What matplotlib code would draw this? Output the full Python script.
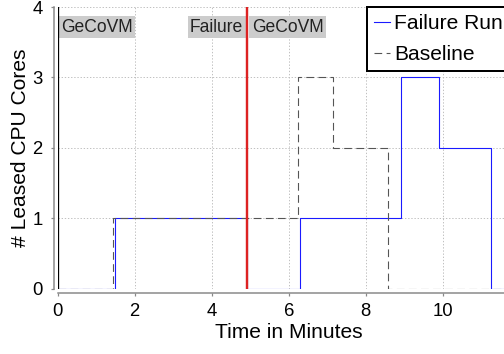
import matplotlib
matplotlib.use("Agg")
import matplotlib.pyplot as plt
import numpy as np

plt.rcParams['font.family'] = ['Liberation Sans', 'DejaVu Sans']

# Failure run: step edges (time, value held after)
fail_t = [0, 1.48, 4.92, 6.30, 8.90, 9.90, 11.24, 12.5]
fail_v = [0, 1, 0, 1, 3, 2, 0, 0]
# Baseline
base_t = [0, 1.44, 6.23, 7.16, 8.57, 12.5]
base_v = [0, 1, 3, 2, 0, 0]

failure_time = 4.92
xticks = [0, 2, 4, 6, 8, 10]
yticks = [0, 1, 2, 3, 4]

fig = plt.figure(figsize=(7.0, 354/72), dpi=72)
ax = fig.add_axes([57.5/504, 1 - 288.5/354, (520-57.5)/504, (288.5-7)/354])

ax.step(fail_t, fail_v, where='post', color='#1a1aff', lw=1.1, label='Failure Run', zorder=3)
ax.step(base_t, base_v, where='post', color='#555555', lw=1.1, ls=(0, (7, 4)), label='Baseline', zorder=3)
ax.axvline(0, color='black', lw=1.3, zorder=4)
ax.axvline(failure_time, color='#dd2222', lw=2.4, zorder=5)

ax.set_xlim(0, 12)
ax.set_ylim(0, 4)
ax.set_xticks(xticks)
ax.set_yticks(yticks)
ax.grid(True, color='#bbbbbb', ls=(0, (1.5, 2)), lw=0.9)
for s in ['top', 'right']:
    ax.spines[s].set_visible(False)
for s in ['left', 'bottom']:
    ax.spines[s].set_position(('outward', 4))
    ax.spines[s].set_color('#888888')
    ax.spines[s].set_linewidth(1.5)
ax.tick_params(colors='#888888', labelcolor='black', labelsize=18.5, length=3, width=1.2)
ax.tick_params(axis='x', pad=7)
ax.tick_params(axis='y', pad=8)

ax.set_xlabel('Time in Minutes', fontsize=21, labelpad=3)
ax.set_ylabel('# Leased CPU Cores', fontsize=21, labelpad=2)

bbox = dict(facecolor='#cccccc', edgecolor='none', pad=2.5)
ax.text(0.1, 3.71, 'GeCoVM', fontsize=17.5, color='#222222', va='center', ha='left', bbox=bbox)
ax.text(failure_time - 0.1, 3.71, 'Failure', fontsize=17.5, color='#222222', va='center', ha='right', bbox=bbox)
ax.text(failure_time + 0.12, 3.71, 'GeCoVM', fontsize=17.5, color='#222222', va='center', ha='left', bbox=bbox)

leg = ax.legend(loc='upper left', bbox_to_anchor=((367-57.5)/(520-57.5), 1.0), fontsize=21,
                handlelength=0.75, handletextpad=0.2, borderpad=0.35, labelspacing=0.55,
                borderaxespad=0, fancybox=False, framealpha=1)
leg.get_frame().set_edgecolor('black')
leg.get_frame().set_linewidth(2)

fig.savefig('out.png', dpi=72)
